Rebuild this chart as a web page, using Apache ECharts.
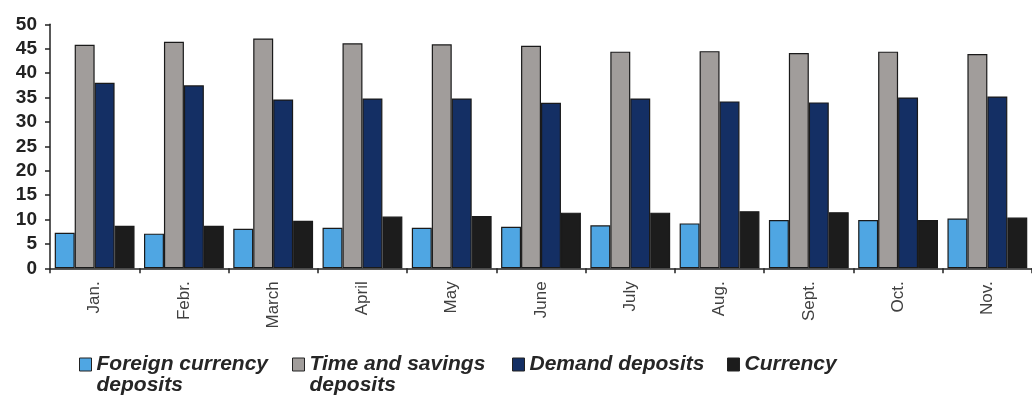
<!DOCTYPE html>
<html>
<head>
<meta charset="utf-8">
<script src="https://cdn.jsdelivr.net/npm/echarts@6/dist/echarts.min.js"></script>
<style>
html,body{margin:0;padding:0;background:#fff;}
#chart{width:1032px;height:398px;}
</style>
</head>
<body>
<div id="chart"></div>
<script>
const categories = ['Jan.', 'Febr.', 'March', 'April', 'May', 'June', 'July', 'Aug.', 'Sept.', 'Oct.', 'Nov.'];
const foreignCurrency = [7.3, 7.1, 8.1, 8.3, 8.3, 8.5, 8.8, 9.2, 9.9, 9.9, 10.2];
const timeSavings = [45.8, 46.4, 47.1, 46.1, 45.9, 45.6, 44.4, 44.5, 44.1, 44.4, 43.9];
const demandDeposits = [38.0, 37.5, 34.6, 34.8, 34.8, 33.9, 34.8, 34.2, 34.0, 35.0, 35.2];
const currency = [8.7, 8.7, 9.75, 10.6, 10.7, 11.4, 11.4, 11.7, 11.5, 9.9, 10.4];
const yTicks = [0, 5, 10, 15, 20, 25, 30, 35, 40, 45, 50];

const seriesNames = ['Foreign currency deposits', 'Time and savings deposits', 'Demand deposits', 'Currency'];
const legendLines = [['Foreign currency', 'deposits'], ['Time and savings', 'deposits'], ['Demand deposits'], ['Currency']];
const colors = ['#4fa6e3', '#a19d9b', '#142f64', '#1c1c1c'];
const legendLeft = [79, 292, 512, 727];

const chart = echarts.init(document.getElementById('chart'), null, {renderer: 'canvas'});
const values = [foreignCurrency, timeSavings, demandDeposits, currency];

const LH = 21;
const ICON_TOP = 358;
const legends = seriesNames.map((n, i) => {
  const lines = legendLines[i];
  const twoLine = lines.length > 1;
  // two-line labels get an empty leading line so the first real line sits beside the icon
  const label = twoLine ? ' \n' + lines.join('\n') : lines[0];
  return {
    data: [n],
    left: legendLeft[i],
    top: twoLine ? ICON_TOP + 6.5 - 1.5 * LH : ICON_TOP + 6.5 - 0.5 * LH,
    padding: 0,
    itemWidth: 12,
    itemHeight: 13,
    icon: 'rect',
    selectedMode: false,
    formatter: () => label,
    itemStyle: {borderColor: '#222', borderWidth: 1},
    textStyle: {
      fontFamily: 'Liberation Sans, Arial, sans-serif',
      fontSize: 21,
      fontWeight: 'bold',
      fontStyle: 'italic',
      color: '#262626',
      lineHeight: LH
    }
  };
});

const option = {
  backgroundColor: '#ffffff',
  animation: false,
  grid: {left: 50, top: 24.3, width: 984.5, height: 244},
  legend: legends,
  xAxis: {
    type: 'category',
    data: categories,
    axisLine: {show: true, lineStyle: {color: '#222', width: 1.5}},
    axisTick: {show: true, length: 5, lineStyle: {color: '#222', width: 1.5}},
    axisLabel: {
      rotate: 90,
      margin: 13,
      fontFamily: 'Liberation Sans, Arial, sans-serif',
      fontSize: 17,
      color: '#404040'
    },
    splitLine: {show: false}
  },
  yAxis: {
    type: 'value',
    min: yTicks[0],
    max: yTicks[yTicks.length - 1],
    interval: 5,
    axisLine: {show: true, lineStyle: {color: '#222', width: 1.5}},
    axisTick: {show: true, length: 5, lineStyle: {color: '#222', width: 1.5}},
    axisLabel: {
      margin: 13,
      fontFamily: 'Liberation Sans, Arial, sans-serif',
      fontSize: 19,
      fontWeight: 'bold',
      color: '#222'
    },
    splitLine: {show: false}
  },
  series: seriesNames.map((n, i) => ({
    name: n,
    type: 'bar',
    data: values[i],
    barGap: '0%',
    barCategoryGap: '10.6%',
    itemStyle: {color: colors[i], borderColor: '#1a1a1a', borderWidth: 1.2}
  }))
};
chart.setOption(option);
</script>
</body>
</html>
